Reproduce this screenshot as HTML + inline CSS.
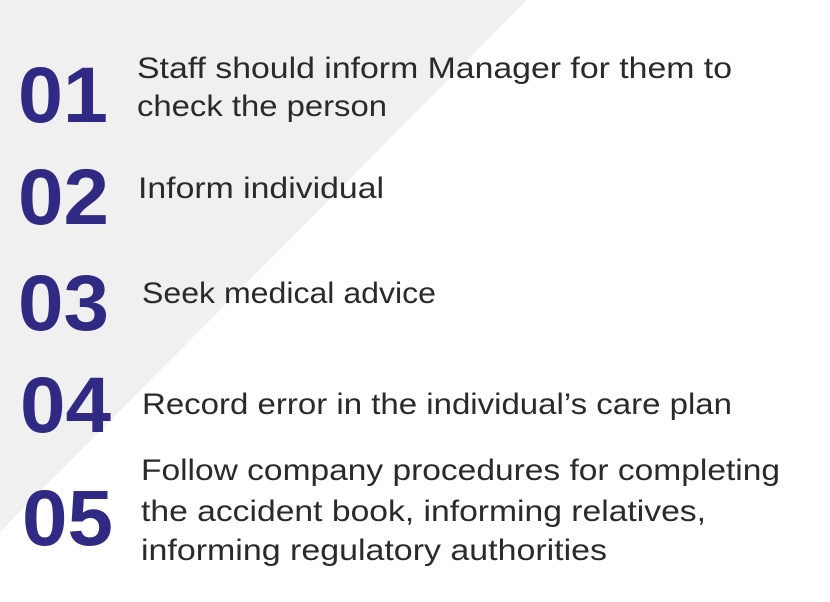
<!DOCTYPE html>
<html><head><meta charset="utf-8"><style>
html,body{margin:0;padding:0;background:#fff;}
svg{display:block;}
.n{font-family:"Liberation Sans",sans-serif;font-weight:bold;font-size:79px;fill:#302a84;}
.t{font-family:"Liberation Sans",sans-serif;font-size:30px;fill:#2a2a2a;}
</style></head><body>
<svg width="830" height="602" viewBox="0 0 830 602">
<polygon points="0,0 527,0 0,532" fill="#f0f0f0"/>
<g>
<text class="n" x="18" y="122" textLength="90" lengthAdjust="spacingAndGlyphs">01</text>
<text class="t" x="137" y="78" textLength="595" lengthAdjust="spacingAndGlyphs">Staff should inform Manager for them to</text>
<text class="t" x="137" y="116" textLength="250" lengthAdjust="spacingAndGlyphs">check the person</text>
</g>
<g>
<text class="n" x="18" y="224" textLength="91" lengthAdjust="spacingAndGlyphs">02</text>
<text class="t" x="138" y="198" textLength="246" lengthAdjust="spacingAndGlyphs">Inform individual</text>
</g>
<g>
<text class="n" x="18" y="330" textLength="91" lengthAdjust="spacingAndGlyphs">03</text>
<text class="t" x="142" y="303" textLength="294" lengthAdjust="spacingAndGlyphs">Seek medical advice</text>
</g>
<g>
<text class="n" x="20" y="432" textLength="91" lengthAdjust="spacingAndGlyphs">04</text>
<text class="t" x="142" y="414" textLength="590" lengthAdjust="spacingAndGlyphs">Record error in the individual’s care plan</text>
</g>
<g>
<text class="n" x="22" y="545" textLength="91" lengthAdjust="spacingAndGlyphs">05</text>
<text class="t" x="141" y="480" textLength="639" lengthAdjust="spacingAndGlyphs">Follow company procedures for completing</text>
<text class="t" x="141" y="521" textLength="565" lengthAdjust="spacingAndGlyphs">the accident book, informing relatives,</text>
<text class="t" x="141" y="560" textLength="466" lengthAdjust="spacingAndGlyphs">informing regulatory authorities</text>
</g>
</svg>
</body></html>
